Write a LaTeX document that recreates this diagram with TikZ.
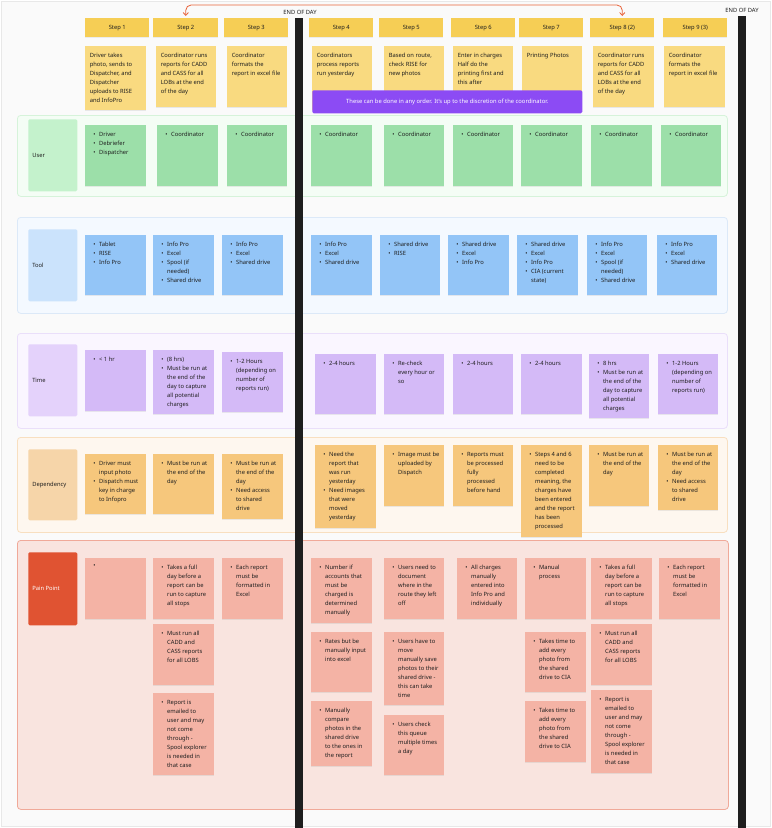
\documentclass[tikz,border=0pt]{standalone}
\usepackage{fontspec}
\setmainfont{Noto Sans}
\usetikzlibrary{arrows.meta,shadows}
\definecolor{ink}{HTML}{1E1E1E}
\definecolor{hdr}{HTML}{F6CE55}
\definecolor{desc}{HTML}{F9DA80}
\definecolor{purp}{HTML}{8C4BF4}
\definecolor{ucard}{HTML}{9CDFA9}
\definecolor{ulab}{HTML}{C4F2CC}
\definecolor{ufr}{HTML}{F4FDF5}
\definecolor{ufrb}{HTML}{D6F3DA}
\definecolor{tcard}{HTML}{93C5F7}
\definecolor{tlab}{HTML}{CBE3FC}
\definecolor{tfr}{HTML}{F4F9FF}
\definecolor{tfrb}{HTML}{DCE9F8}
\definecolor{mcard}{HTML}{D4BAF7}
\definecolor{mlab}{HTML}{E4D2FB}
\definecolor{mfr}{HTML}{FAF6FF}
\definecolor{mfrb}{HTML}{EADFFA}
\definecolor{dcard}{HTML}{F6C77C}
\definecolor{dlab}{HTML}{F6D5A9}
\definecolor{dfr}{HTML}{FEF7EF}
\definecolor{dfrb}{HTML}{F8DFC0}
\definecolor{pcard}{HTML}{F4B3A5}
\definecolor{plab}{HTML}{E05332}
\definecolor{pfr}{HTML}{F9E4DF}
\definecolor{pfrb}{HTML}{F0A999}
\definecolor{bar}{HTML}{1E1E1E}
\definecolor{arr}{HTML}{E8643C}
\newcommand\fs{\fontsize{4.35}{6.75}\selectfont}
\newcommand\bu{\makebox[4.4pt][l]{\textbullet}}
\newcommand\bx{\makebox[4.4pt]{}}
\tikzset{
  cardbox/.style={rectangle, inner sep=0, anchor=north west, draw=none,
    drop shadow={shadow xshift=0pt, shadow yshift=-0.5pt, opacity=0.15}},
  framebox/.style={rectangle, inner sep=0, anchor=north west, rounded corners=2.5pt, line width=0.6pt},
  labbox/.style={rectangle, inner sep=0, anchor=north west, rounded corners=1pt},
  ctext/.style={inner sep=0, align=left, font=\fs, text=ink, anchor=north west},
  labtext/.style={inner sep=0, font=\fs\bfseries, text=ink, anchor=west},
  hdrbox/.style={rectangle, inner sep=0, anchor=north west, fill=hdr, font=\fs\bfseries, text=ink,
    drop shadow={shadow xshift=0pt, shadow yshift=-0.4pt, opacity=0.12}},
  barbox/.style={rectangle, inner sep=0, anchor=north west, fill=bar},
  eod/.style={inner sep=0, font=\fs, text=ink},
  redarrow/.style={draw=arr, line width=0.6pt, rounded corners=4pt, {Straight Barb[length=2.2pt,width=4pt]}-{Straight Barb[length=2.2pt,width=4pt]}}
}
% card: name, x1, y1, x2, y2, colour, text (bulleted)
\newcommand\mkcard[7]{%
  \node[cardbox, fill=#6, minimum width={(#4-#2)*0.75pt}, minimum height={(#5-#3)*0.75pt}] (#1) at (#2,#3) {};
  \node[ctext] (#1t) at ([xshift=6pt, yshift=-5pt]#1.north west) {#7};}
% note: name, x1, y1, x2, y2, text (plain)
\newcommand\mknote[6]{%
  \node[cardbox, fill=desc, minimum width={(#4-#2)*0.75pt}, minimum height={(#5-#3)*0.75pt}] (#1) at (#2,#3) {};
  \node[ctext] (#1t) at ([xshift=3.4pt, yshift=-4.8pt]#1.north west) {#6};}
% frame: name, x1,y1,x2,y2, fill, border
\newcommand\mkframe[7]{%
  \node[framebox, fill=#6, draw=#7, minimum width={(#4-#2)*0.75pt}, minimum height={(#5-#3)*0.75pt}] (#1) at (#2,#3) {};}
% label: name, x1,y1,x2,y2, fill, text, textcolour
\newcommand\mklab[8]{%
  \node[labbox, fill=#6, minimum width={(#4-#2)*0.75pt}, minimum height={(#5-#3)*0.75pt}] (#1) at (#2,#3) {};
  \node[labtext, text=#8] (#1t) at ([xshift=3pt]#1.west) {#7};}
% header: name, x1, x2, text
\newcommand\mkhdr[4]{%
  \node[hdrbox, minimum width={(#3-#2)*0.75pt}, minimum height={19*0.75pt}] (#1) at (#2,18) {#4};}
\begin{document}
\begin{tikzpicture}[x={(0.75pt,0)}, y={(0,-0.75pt)}]
\useasboundingbox (0,0) rectangle (771,828);
\node[rectangle, inner sep=0, anchor=north west, fill=white!98!black, draw=black!9, line width=0.5pt,
  minimum width={769*0.75pt}, minimum height={825*0.75pt}] (page) at (1,1) {};

% ---------- row frames ----------
\mkframe{fuser}{17}{115}{727}{196}{ufr}{ufrb}
\mkframe{ftool}{17}{217}{727}{313}{tfr}{tfrb}
\mkframe{ftime}{17}{333}{727}{428}{mfr}{mfrb}
\mkframe{fdep}{17}{437}{727}{532}{dfr}{dfrb}
\mkframe{fpain}{17}{540}{728}{809}{pfr}{pfrb}

% ---------- row labels ----------
\mklab{luser}{28}{119}{77}{191}{ulab}{User}{ink}
\mklab{ltool}{28}{229}{77}{301}{tlab}{Tool}{ink}
\mklab{ltime}{28}{344}{77}{416}{mlab}{Time}{ink}
\mklab{ldep}{28}{449}{77}{520}{dlab}{Dependency}{ink}
\mklab{lpain}{28}{552}{77}{625}{plab}{Pain Point}{white}

% ---------- step headers ----------
\mkhdr{h1}{85}{149}{Step 1}
\mkhdr{h2}{153}{218}{Step 2}
\mkhdr{h3}{224}{288}{Step 3}
\mkhdr{h4}{309}{373}{Step 4}
\mkhdr{h5}{379}{443}{Step 5}
\mkhdr{h6}{451}{515}{Step 6}
\mkhdr{h7}{519}{583}{Step 7}
\mkhdr{h8}{590}{654}{Step 8 (2)}
\mkhdr{h9}{663}{727}{Step 9 (3)}

% ---------- descriptions ----------
\mknote{n1}{85}{46}{146}{110}{Driver takes\\photo, sends to\\Dispatcher, and\\Dispatcher\\uploads to RISE\\and InfoPro}
\mknote{n2}{156}{46}{216}{107}{Coordinator runs\\reports for CADD\\and CASS for all\\LOBs at the end\\of the day}
\mknote{n3}{227}{46}{287}{107}{Coordinator\\formats the\\report in excel file}
\mknote{n4}{312}{46}{372}{110}{Coordinators\\process reports\\run yesterday}
\mknote{n5}{384}{46}{444}{110}{Based on route,\\check RISE for\\new photos}
\mknote{n6}{453}{46}{513}{110}{Enter in charges\\Half do the\\printing first and\\this after}
\mknote{n7}{522}{46}{582}{110}{Printing Photos}
\mknote{n8}{593}{46}{654}{107}{Coordinator runs\\reports for CADD\\and CASS for all\\LOBs at the end\\of the day}
\mknote{n9}{664}{46}{725}{107}{Coordinator\\formats the\\report in excel file}

\node[rectangle, inner sep=0, anchor=north west, fill=purp, rounded corners=1pt,
  minimum width={270*0.75pt}, minimum height={23*0.75pt}] (order) at (312,90) {};
\node[inner sep=0, font=\fs\bfseries, text=white] (ordert) at (order.center)
  {These can be done in any order. It's up to the discretion of the coordinator.};

% ---------- user ----------
\mkcard{u1}{85}{125}{146}{186}{ucard}{\bu Driver\\\bu Debriefer\\\bu Dispatcher}
\mkcard{u2}{157}{125}{218}{186}{ucard}{\bu Coordinator}
\mkcard{u3}{227}{125}{287}{186}{ucard}{\bu Coordinator}
\mkcard{u4}{311}{125}{372}{186}{ucard}{\bu Coordinator}
\mkcard{u5}{384}{125}{444}{186}{ucard}{\bu Coordinator}
\mkcard{u6}{453}{125}{513}{186}{ucard}{\bu Coordinator}
\mkcard{u7}{521}{125}{582}{186}{ucard}{\bu Coordinator}
\mkcard{u8}{591}{125}{652}{186}{ucard}{\bu Coordinator}
\mkcard{u9}{661}{125}{721}{186}{ucard}{\bu Coordinator}

% ---------- tool ----------
\mkcard{t1}{85}{235}{146}{295}{tcard}{\bu Tablet\\\bu RISE\\\bu Info Pro}
\mkcard{t2}{153}{235}{214}{295}{tcard}{\bu Info Pro\\\bu Excel\\\bu Spool (if\\\bx needed)\\\bu Shared drive}
\mkcard{t3}{222}{235}{283}{295}{tcard}{\bu Info Pro\\\bu Excel\\\bu Shared drive}
\mkcard{t4}{311}{235}{372}{295}{tcard}{\bu Info Pro\\\bu Excel\\\bu Shared drive}
\mkcard{t5}{380}{235}{440}{295}{tcard}{\bu Shared drive\\\bu RISE}
\mkcard{t6}{448}{235}{509}{295}{tcard}{\bu Shared drive\\\bu Excel\\\bu Info Pro}
\mkcard{t7}{517}{235}{578}{295}{tcard}{\bu Shared drive\\\bu Excel\\\bu Info Pro\\\bu CIA (current\\\bx state)}
\mkcard{t8}{587}{235}{647}{295}{tcard}{\bu Info Pro\\\bu Excel\\\bu Spool (if\\\bx needed)\\\bu Shared drive}
\mkcard{t9}{657}{235}{717}{295}{tcard}{\bu Info Pro\\\bu Excel\\\bu Shared drive}

% ---------- time ----------
\mkcard{m1}{85}{350}{146}{411}{mcard}{\bu < 1 hr}
\mkcard{m2}{153}{350}{214}{414}{mcard}{\bu (8 hrs)\\\bu Must be run at\\\bx the end of the\\\bx day to capture\\\bx all potential\\\bx charges}
\mkcard{m3}{222}{352}{283}{412}{mcard}{\bu 1-2 Hours\\\bx (depending on\\\bx number of\\\bx reports run)}
\mkcard{m4}{315}{354}{376}{414}{mcard}{\bu 2-4 hours}
\mkcard{m5}{384}{354}{444}{414}{mcard}{\bu Re-check\\\bx every hour or\\\bx so}
\mkcard{m6}{453}{354}{513}{414}{mcard}{\bu 2-4 hours}
\mkcard{m7}{521}{354}{582}{414}{mcard}{\bu 2-4 hours}
\mkcard{m8}{589}{354}{649}{418}{mcard}{\bu 8 hrs\\\bu Must be run at\\\bx the end of the\\\bx day to capture\\\bx all potential\\\bx charges}
\mkcard{m9}{658}{354}{718}{414}{mcard}{\bu 1-2 Hours\\\bx (depending on\\\bx number of\\\bx reports run)}

% ---------- dependency ----------
\mkcard{d1}{85}{454}{146}{514}{dcard}{\bu Driver must\\\bx input photo\\\bu Dispatch must\\\bx key in charge\\\bx to Infopro}
\mkcard{d2}{153}{454}{214}{514}{dcard}{\bu Must be run at\\\bx the end of the\\\bx day}
\mkcard{d3}{222}{454}{283}{519}{dcard}{\bu Must be run at\\\bx the end of the\\\bx day\\\bu Need access\\\bx to shared\\\bx drive}
\mkcard{d4}{315}{445}{376}{528}{dcard}{\bu Need the\\\bx report that\\\bx was run\\\bx yesterday\\\bu Need images\\\bx that were\\\bx moved\\\bx yesterday}
\mkcard{d5}{384}{445}{444}{506}{dcard}{\bu Image must be\\\bx uploaded by\\\bx Dispatch}
\mkcard{d6}{453}{445}{513}{506}{dcard}{\bu Reports must\\\bx be processed\\\bx fully\\\bx processed\\\bx before hand}
\mkcard{d7}{521}{445}{582}{537}{dcard}{\bu Steps 4 and 6\\\bx need to be\\\bx completed\\\bx meaning, the\\\bx charges have\\\bx been entered\\\bx and the report\\\bx has been\\\bx processed}
\mkcard{d8}{589}{445}{649}{506}{dcard}{\bu Must be run at\\\bx the end of the\\\bx day}
\mkcard{d9}{658}{445}{718}{510}{dcard}{\bu Must be run at\\\bx the end of the\\\bx day\\\bu Need access\\\bx to shared\\\bx drive}

% ---------- pain points ----------
\mkcard{p1}{85}{558}{146}{619}{pcard}{\bu}
\mkcard{p2a}{153}{558}{214}{619}{pcard}{\bu Takes a full\\\bx day before a\\\bx report can be\\\bx run to capture\\\bx all stops}
\mkcard{p2b}{153}{624}{214}{685}{pcard}{\bu Must run all\\\bx CADD and\\\bx CASS reports\\\bx for all LOBS}
\mkcard{p2c}{153}{693}{214}{775}{pcard}{\bu Report is\\\bx emailed to\\\bx user and may\\\bx not come\\\bx through -\\\bx Spool explorer\\\bx is needed in\\\bx that case}
\mkcard{p3}{222}{558}{283}{619}{pcard}{\bu Each report\\\bx must be\\\bx formatted in\\\bx Excel}
\mkcard{p4a}{311}{558}{372}{623}{pcard}{\bu Number if\\\bx accounts that\\\bx must be\\\bx charged is\\\bx determined\\\bx manually}
\mkcard{p4b}{311}{632}{372}{692}{pcard}{\bu Rates but be\\\bx manually input\\\bx into excel}
\mkcard{p4c}{311}{701}{372}{766}{pcard}{\bu Manually\\\bx compare\\\bx photos in the\\\bx shared drive\\\bx to the ones in\\\bx the report}
\mkcard{p5a}{384}{558}{444}{619}{pcard}{\bu Users need to\\\bx document\\\bx where in the\\\bx route they left\\\bx off}
\mkcard{p5b}{384}{632}{444}{705}{pcard}{\bu Users have to\\\bx move\\\bx manually save\\\bx photos to their\\\bx shared drive -\\\bx this can take\\\bx time}
\mkcard{p5c}{384}{715}{444}{775}{pcard}{\bu Users check\\\bx this queue\\\bx multiple times\\\bx a day}
\mkcard{p6}{457}{558}{517}{619}{pcard}{\bu All charges\\\bx manually\\\bx entered into\\\bx Info Pro and\\\bx individually}
\mkcard{p7a}{525}{558}{586}{619}{pcard}{\bu Manual\\\bx process}
\mkcard{p7b}{525}{632}{586}{692}{pcard}{\bu Takes time to\\\bx add every\\\bx photo from\\\bx the shared\\\bx drive to CIA}
\mkcard{p7c}{525}{701}{586}{762}{pcard}{\bu Takes time to\\\bx add every\\\bx photo from\\\bx the shared\\\bx drive to CIA}
\mkcard{p8a}{591}{558}{652}{619}{pcard}{\bu Takes a full\\\bx day before a\\\bx report can be\\\bx run to capture\\\bx all stops}
\mkcard{p8b}{591}{624}{652}{685}{pcard}{\bu Must run all\\\bx CADD and\\\bx CASS reports\\\bx for all LOBS}
\mkcard{p8c}{591}{690}{652}{773}{pcard}{\bu Report is\\\bx emailed to\\\bx user and may\\\bx not come\\\bx through -\\\bx Spool explorer\\\bx is needed in\\\bx that case}
\mkcard{p9}{659}{558}{720}{619}{pcard}{\bu Each report\\\bx must be\\\bx formatted in\\\bx Excel}

% ---------- end of day bars ----------
\node[barbox, minimum width={8*0.75pt}, minimum height={810*0.75pt}] (bar1) at (295,18) {};
\node[barbox, minimum width={8*0.75pt}, minimum height={812*0.75pt}] (bar2) at (738,16) {};
\node[eod] (eod1) at (300,12) {END OF DAY};
\node[eod] (eod2) at (742,10) {END OF DAY};

% ---------- arrow ----------
\draw[redarrow] ([yshift=1.5pt]h2.north) -- ++(0,-11) -| ([yshift=1.5pt]h8.north);
\end{tikzpicture}
\end{document}
